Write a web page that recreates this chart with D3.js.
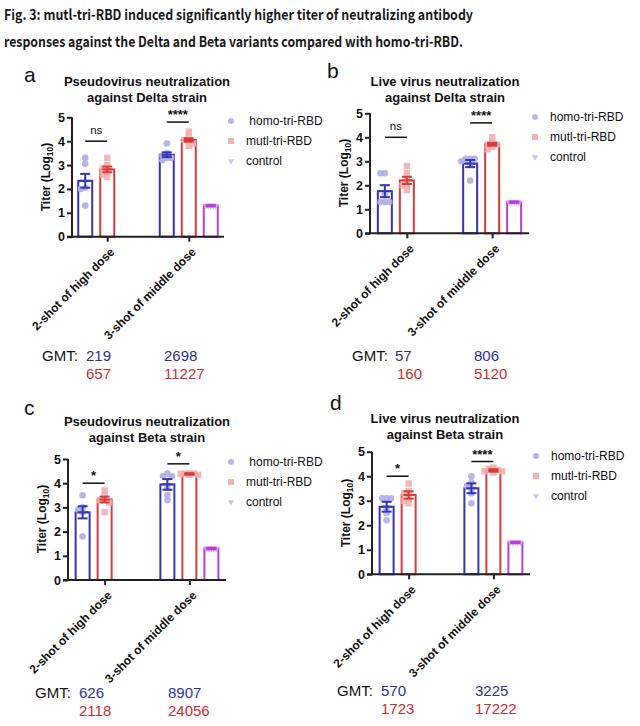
<!DOCTYPE html>
<html><head><meta charset="utf-8">
<script src="https://cdn.jsdelivr.net/npm/d3@7"></script>
<style>body{margin:0;background:#fff} svg{display:block}</style>
</head><body><svg id="c" width="640" height="726"></svg>
<script>
// ---------------- DATA ----------------
const figTitle = ["Fig. 3: mutl-tri-RBD induced significantly higher titer of neutralizing antibody",
                  "responses against the Delta and Beta variants compared with homo-tri-RBD."];
const groups = ["2-shot of high dose", "3-shot of middle dose"];
const seriesNames = ["homo-tri-RBD", "mutl-tri-RBD", "control"];
const yTicks = [0, 1, 2, 3, 4, 5];
const panelLetters = ["a", "b", "c", "d"];
const titleLine1 = ["Pseudovirus neutralization", "Live virus neutralization", "Pseudovirus neutralization", "Live virus neutralization"];
const titleLine2 = ["against Delta strain", "against Delta strain", "against Beta strain", "against Beta strain"];

// GMT per panel, [high dose, middle dose]
const gmtHomoA = [219, 2698],  gmtMutlA = [657, 11227];
const gmtHomoB = [57, 806],    gmtMutlB = [160, 5120];
const gmtHomoC = [626, 8907],  gmtMutlC = [2118, 24056];
const gmtHomoD = [570, 3225],  gmtMutlD = [1723, 17222];
const controlLog = [1.30, 1.30, 1.30, 1.30];   // control bar (middle dose only)

// SEM (log10) per panel, [high, middle]
const semHomoA = [0.29, 0.10], semMutlA = [0.12, 0.07];
const semHomoB = [0.25, 0.15], semMutlB = [0.15, 0.06];
const semHomoC = [0.25, 0.22], semMutlC = [0.12, 0.03];
const semHomoD = [0.20, 0.20], semMutlD = [0.15, 0.05];
const controlSem = [0.03, 0.03, 0.03, 0.03];

// individual points (log10)
const ptsHomoA = [[3.05, 3.3, 2.0, 2.05, 1.3], [3.9, 3.5, 3.4, 3.3, 3.2, 3.3]];
const ptsMutlA = [[3.3, 3.0, 2.85, 2.7, 2.6, 2.5], [4.4, 4.2, 4.05, 4.0, 3.9, 3.8]];
const ptsHomoB = [[2.5, 2.5, 1.3, 1.3, 1.3, 1.6], [3.1, 3.1, 3.1, 3.0, 2.9, 2.2]];
const ptsMutlB = [[2.8, 2.5, 2.2, 2.0, 2.0, 1.8], [4.0, 3.8, 3.7, 3.7, 3.6, 3.5]];
const ptsHomoC = [[3.5, 3.0, 2.9, 2.8, 1.8], [4.4, 4.3, 4.3, 3.8, 3.5, 3.3]];
const ptsMutlC = [[3.7, 3.5, 3.3, 3.3, 3.2, 2.8], [4.4, 4.4, 4.35, 4.35, 4.4, 4.38]];
const ptsHomoD = [[3.1, 3.1, 3.1, 2.7, 2.5, 2.2], [4.0, 3.75, 3.6, 3.5, 3.3, 2.9]];
const ptsMutlD = [[3.7, 3.4, 3.3, 3.1, 3.0, 2.9], [4.35, 4.3, 4.25, 4.2, 4.15, 4.2]];
const ptsControl = [1.3, 1.3, 1.3, 1.3, 1.3];

// significance labels and bracket heights (log10), [high, middle]
const sigA = ["ns", "****"], sigYA = [4.0, 4.8];
const sigB = ["ns", "****"], sigYB = [4.0, 4.6];
const sigC = ["*", "*"],     sigYC = [4.0, 4.8];
const sigD = ["*", "****"],  sigYD = [4.0, 4.6];

// ---------------- LAYOUT ----------------
const layout = [
  {ax: 72,  axEnd: 224, y0: 236.7, y5: 117.3, letter: [24, 82], title: [147, 86], legend: [231, 121], ylab: [50, 177], gmt: [42, 361], gmtX: [86, 164]},
  {ax: 370, axEnd: 529, y0: 233.3, y5: 113.3, letter: [327, 78], title: [445, 86], legend: [535, 117], ylab: [348, 173], gmt: [352, 361], gmtX: [395, 474]},
  {ax: 68,  axEnd: 226, y0: 580,   y5: 459,   letter: [24, 415], title: [147, 426], legend: [231, 462], ylab: [46, 519], gmt: [35, 698], gmtX: [79, 168]},
  {ax: 372, axEnd: 530, y0: 574.3, y5: 451.7, letter: [330, 410], title: [445, 423], legend: [536, 456], ylab: [350, 513], gmt: [337, 696], gmtX: [381, 475]}
];

const panelData = [
  {gh: gmtHomoA, gm: gmtMutlA, sh: semHomoA, sm: semMutlA, ph: ptsHomoA, pm: ptsMutlA, sig: sigA, sigY: sigYA},
  {gh: gmtHomoB, gm: gmtMutlB, sh: semHomoB, sm: semMutlB, ph: ptsHomoB, pm: ptsMutlB, sig: sigB, sigY: sigYB},
  {gh: gmtHomoC, gm: gmtMutlC, sh: semHomoC, sm: semMutlC, ph: ptsHomoC, pm: ptsMutlC, sig: sigC, sigY: sigYC},
  {gh: gmtHomoD, gm: gmtMutlD, sh: semHomoD, sm: semMutlD, ph: ptsHomoD, pm: ptsMutlD, sig: sigD, sigY: sigYD}
];

const strokeCol = {"homo-tri-RBD": "#3535b5", "mutl-tri-RBD": "#d63c3c", "control": "#b640d8"};
const ptCol = {"homo-tri-RBD": "#aeaee4", "mutl-tri-RBD": "#f3aaaa", "control": "#e4a4f0"};
const legCol = {"homo-tri-RBD": "#b8b8e8", "mutl-tri-RBD": "#f4b4b4", "control": "#d4c4ec"};
const FONT = "'Liberation Sans', Arial, sans-serif";

const svg = d3.select("#c");

// figure title
const titleLen = [469, 459];
svg.append("g").selectAll("text").data(figTitle).join("text")
  .attr("x", 4).attr("y", (d, i) => 20 + i * 27)
  .attr("font-family", "'Noto Sans CJK SC', 'Noto Sans', sans-serif")
  .attr("font-weight", "bold").attr("font-size", 14.5).attr("fill", "#1a1a1a")
  .attr("textLength", (d, i) => titleLen[i]).attr("lengthAdjust", "spacingAndGlyphs")
  .text(d => d);

function swarm(vals, y, sp) {
  const placed = [];
  const sorted = vals.map((v, i) => ({v, i})).sort((a, b) => b.v - a.v);
  const offs = [0, -1, 1, -2, 2];
  sorted.forEach(p => {
    const py = y(p.v);
    let done = false;
    for (const k of offs) {
      const px = k * sp;
      if (placed.every(q => Math.hypot(q.x - px, q.y - py) >= sp * 0.95)) { placed.push({x: px, y: py}); done = true; break; }
    }
    if (!done) placed.push({x: 0, y: py});
  });
  return placed;
}

layout.forEach((L, pi) => {
  const D = panelData[pi];
  const g = svg.append("g");
  const x = d3.scalePoint().domain(groups).range([L.ax, L.axEnd]).padding(0.432);
  const slot = d3.scaleBand().domain(seriesNames).range([-33, 33]).paddingInner(0.364).paddingOuter(0.182);
  const y = d3.scaleLinear().domain([0, 5]).range([L.y0, L.y5]);
  const bw = slot.bandwidth();

  // letter
  g.append("text").attr("x", L.letter[0]).attr("y", L.letter[1])
    .attr("font-family", FONT).attr("font-size", 21).attr("fill", "#111").text(panelLetters[pi]);
  // title
  g.append("text").attr("x", L.title[0]).attr("y", L.title[1]).attr("text-anchor", "middle")
    .attr("font-family", FONT).attr("font-weight", "bold").attr("font-size", 13).attr("fill", "#111")
    .text(titleLine1[pi]);
  g.append("text").attr("x", L.title[0]).attr("y", L.title[1] + 15.5).attr("text-anchor", "middle")
    .attr("font-family", FONT).attr("font-weight", "bold").attr("font-size", 13).attr("fill", "#111")
    .text(titleLine2[pi]);

  // bars data
  const bars = [];
  groups.forEach((grp, gi) => {
    bars.push({grp, s: "homo-tri-RBD", v: Math.log10(D.gh[gi]), sem: D.sh[gi], pts: D.ph[gi]});
    bars.push({grp, s: "mutl-tri-RBD", v: Math.log10(D.gm[gi]), sem: D.sm[gi], pts: D.pm[gi]});
  });
  bars.push({grp: groups[1], s: "control", v: controlLog[pi], sem: controlSem[pi], pts: ptsControl});

  const bx = d => x(d.grp) + slot(d.s);
  g.append("g").selectAll("rect").data(bars).join("rect")
    .attr("x", bx).attr("y", d => y(d.v)).attr("width", bw).attr("height", d => y(0) - y(d.v))
    .attr("fill", "#fff").attr("stroke", d => strokeCol[d.s]).attr("stroke-width", 2);

  // points
  bars.forEach(b => {
    const cx = bx(b) + bw / 2;
    const sw = swarm(b.pts, y, b.s === "control" ? 2.5 : 4.4);
    const pg = g.append("g");
    if (b.s === "homo-tri-RBD") {
      pg.selectAll("circle").data(sw).join("circle")
        .attr("cx", d => cx + d.x).attr("cy", d => d.y).attr("r", 3.3).attr("fill", ptCol[b.s]).attr("opacity", 0.9);
    } else if (b.s === "mutl-tri-RBD") {
      pg.selectAll("rect").data(sw).join("rect")
        .attr("x", d => cx + d.x - 3.2).attr("y", d => d.y - 3.2).attr("width", 6.4).attr("height", 6.4)
        .attr("fill", ptCol[b.s]).attr("opacity", 0.85);
    } else {
      pg.selectAll("path").data(sw).join("path")
        .attr("d", d3.symbol(d3.symbolTriangle, 20)).attr("transform", d => `translate(${cx + d.x},${d.y}) rotate(180)`)
        .attr("fill", ptCol[b.s]).attr("opacity", 0.9);
    }
  });

  // error bars
  bars.forEach(b => {
    const cx = bx(b) + bw / 2;
    const eg = g.append("g").attr("stroke", strokeCol[b.s]).attr("stroke-width", 2);
    eg.append("line").attr("x1", cx).attr("x2", cx).attr("y1", y(b.v - b.sem)).attr("y2", y(b.v + b.sem));
    [b.v - b.sem, b.v + b.sem, b.v].forEach(v => {
      eg.append("line").attr("x1", cx - 5).attr("x2", cx + 5).attr("y1", y(v)).attr("y2", y(v));
    });
  });

  // axes
  const ya = g.append("g").attr("transform", `translate(${L.ax},0)`)
    .call(d3.axisLeft(y).tickValues(yTicks).tickFormat(d3.format("d")).tickSize(5).tickSizeOuter(0));
  const xa = g.append("g").attr("transform", `translate(0,${L.y0})`)
    .call(d3.axisBottom(x).tickSize(5).tickSizeOuter(0).tickFormat(""));
  [ya, xa].forEach(a => {
    a.select(".domain").attr("stroke", "#222").attr("stroke-width", 2);
    a.selectAll(".tick line").attr("stroke", "#222").attr("stroke-width", 2);
  });
  ya.select(".domain").attr("d", `M0,${L.y0 + 1}V${L.y5}`);
  xa.select(".domain").attr("d", `M${L.ax - 5},0H${L.axEnd}`);
  ya.selectAll(".tick text").attr("font-family", FONT).attr("font-weight", "bold").attr("font-size", 12.5)
    .attr("fill", "#111").attr("x", -7);

  // x labels rotated
  g.append("g").selectAll("text").data(groups).join("text")
    .attr("transform", d => `translate(${x(d) + 5},${L.y0 + 13}) rotate(-45)`)
    .attr("text-anchor", "end").attr("dy", "0.35em")
    .attr("font-family", FONT).attr("font-weight", "bold").attr("font-size", 12).attr("fill", "#111")
    .text(d => d);

  // y label
  const yl = g.append("text").attr("transform", `translate(${L.ylab[0]},${L.ylab[1]}) rotate(-90)`)
    .attr("text-anchor", "middle").attr("font-family", FONT).attr("font-weight", "bold")
    .attr("font-size", 12).attr("fill", "#111");
  yl.append("tspan").text("Titer (Log");
  yl.append("tspan").attr("font-size", 8.5).attr("dy", 3).text("10");
  yl.append("tspan").attr("dy", -3).text(")");

  // significance
  groups.forEach((grp, gi) => {
    const x1 = x(grp) + slot("homo-tri-RBD") + bw / 2, x2 = x(grp) + slot("mutl-tri-RBD") + bw / 2;
    const yy = y(D.sigY[gi]);
    g.append("line").attr("x1", x1).attr("x2", x2).attr("y1", yy).attr("y2", yy).attr("stroke", "#111").attr("stroke-width", 1.5);
    const lab = D.sig[gi];
    g.append("text").attr("x", (x1 + x2) / 2).attr("y", lab === "ns" ? yy - 7 : yy - 3)
      .attr("text-anchor", "middle").attr("font-family", FONT)
      .attr("font-weight", lab === "ns" ? "normal" : "bold")
      .attr("font-size", lab === "ns" ? 11.5 : 13).attr("fill", "#111").text(lab);
  });

  // legend
  const lg = g.append("g").attr("transform", `translate(${L.legend[0]},${L.legend[1]})`);
  seriesNames.forEach((s, i) => {
    const row = lg.append("g").attr("transform", `translate(0,${i * 20})`);
    if (i === 0) row.append("circle").attr("r", 3).attr("fill", legCol[s]);
    else if (i === 1) row.append("rect").attr("x", -3).attr("y", -3).attr("width", 6).attr("height", 6).attr("fill", legCol[s]);
    else row.append("path").attr("d", d3.symbol(d3.symbolTriangle, 18)).attr("transform", "rotate(180)").attr("fill", legCol[s]);
    row.append("text").attr("x", 15).attr("dy", "0.35em").attr("font-family", FONT).attr("font-size", 12)
      .attr("fill", "#111").text((i === 0 && pi % 2 === 0 ? " " : "") + s).attr("xml:space", "preserve");
  });

  // GMT
  const gt = g.append("g").attr("font-family", FONT).attr("font-size", 15);
  gt.append("text").attr("x", L.gmt[0]).attr("y", L.gmt[1]).attr("fill", "#111").text("GMT:");
  groups.forEach((grp, gi) => {
    gt.append("text").attr("x", L.gmtX[gi]).attr("y", L.gmt[1]).attr("fill", "#2b3595").text(D.gh[gi]);
    gt.append("text").attr("x", L.gmtX[gi] + (gi === 0 && pi === 1 ? 2 : 0)).attr("y", L.gmt[1] + 18).attr("fill", "#c8302f").text(D.gm[gi]);
  });
});
</script></body></html>
